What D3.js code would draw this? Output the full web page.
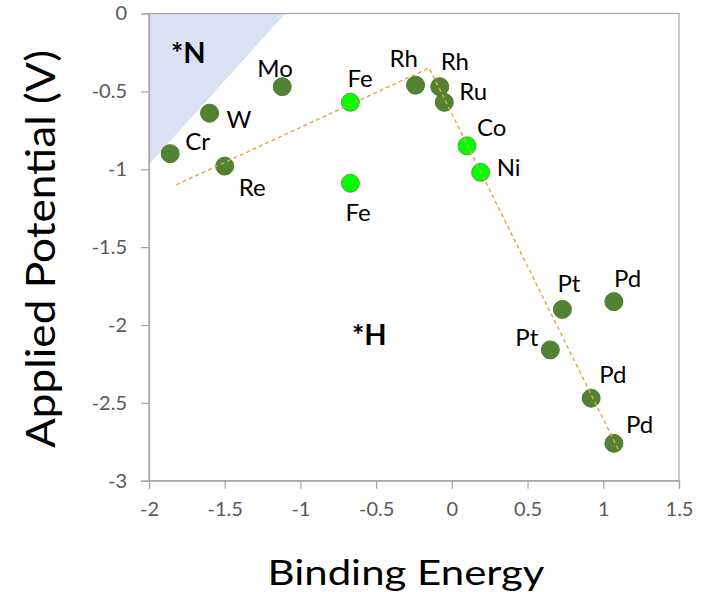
<!DOCTYPE html>
<html>
<head>
<meta charset="utf-8">
<script src="https://cdn.jsdelivr.net/npm/d3@7"></script>
<style>
  html, body { margin: 0; padding: 0; background: #fff; }
  svg { display: block; }
  text { font-family: Lato, "Open Sans", sans-serif; }
</style>
</head>
<body>
<svg id="chart" width="711" height="592"></svg>
<script>
// ---- data ----
const elements  = ["Cr","W","Mo","Re","Fe","Fe","Rh","Rh","Ru","Co","Ni","Pt","Pd","Pt","Pd","Pd"];
const binding   = [-1.86,-1.60,-1.12,-1.50,-0.67,-0.67,-0.24,-0.08,-0.05,0.10,0.19,0.73,1.07,0.65,0.92,1.07];
const potential = [-0.90,-0.64,-0.47,-0.98,-0.57,-1.09,-0.46,-0.47,-0.57,-0.85,-1.02,-1.90,-1.85,-2.16,-2.47,-2.76];
const kind      = ["d","d","d","d","l","l","d","d","d","l","l","d","d","d","d","d"];

const trendX = [-1.82, -0.15, 1.10];
const trendY = [-1.10, -0.35, -2.80];

const regionX = [-2, -1.10, -2];
const regionY = [0, 0, -0.97];

const annoText = ["*N", "*H"];
const annoX = [-1.855, -0.66];
const annoY = [-0.318, -2.13];

const xTicks = [-2, -1.5, -1, -0.5, 0, 0.5, 1, 1.5];
const yTicks = [0, -0.5, -1, -1.5, -2, -2.5, -3];

// ---- layout (label offsets in px, relative to point) ----
const labelDx = [15, 17, -25, 14, -3, -5, -26, 1, 15, 10, 16, -5, 0, -35, 8, 12];
const labelDy = [-4, 15, -10, 30, -15, 38, -18, -17, -2, -10, 4, -17, -15, -4, -15, -10];

const svg = d3.select("#chart");
const L = 149, R = 679, T = 13.5, B = 480.7;

const x = d3.scaleLinear().domain([-2, 1.5]).range([L, R]);
const y = d3.scaleLinear().domain([0, -3]).range([T, B]);

// shaded region
svg.append("path")
  .attr("d", d3.line()(regionX.map((v, i) => [x(v), y(regionY[i])])) + "Z")
  .attr("fill", "#d9e1f2");

// frame
svg.append("rect")
  .attr("x", L).attr("y", T).attr("width", R - L).attr("height", B - T)
  .attr("fill", "none").attr("stroke", "#a6a6a6").attr("stroke-width", 1.2);

// axes
const fmt = d => (d === 0 ? "0" : d3.format("")(d)).replace("−", "-");
const xAxis = svg.append("g").attr("transform", `translate(0,${B})`)
  .call(d3.axisBottom(x).tickValues(xTicks).tickSize(8).tickPadding(13).tickFormat(fmt));
const yAxis = svg.append("g").attr("transform", `translate(${L},0)`)
  .call(d3.axisLeft(y).tickValues(yTicks).tickSize(8).tickPadding(14).tickFormat(fmt));
[xAxis, yAxis].forEach(g => {
  g.select(".domain").attr("stroke", "#a6a6a6").attr("stroke-width", 1.2);
  g.selectAll(".tick line").attr("stroke", "#a6a6a6").attr("stroke-width", 1.2);
  g.selectAll(".tick text").attr("fill", "#595959")
    .style("font-family", "Lato, 'Open Sans', sans-serif").style("font-size", "20px");
});

// points
const pts = elements.map((e, i) => ({ e, bx: binding[i], py: potential[i], k: kind[i], dx: labelDx[i], dy: labelDy[i] }));
svg.append("g").selectAll("circle").data(pts).join("circle")
  .attr("cx", d => x(d.bx)).attr("cy", d => y(d.py)).attr("r", 9)
  .attr("fill", d => d.k === "d" ? "#548235" : "#00ff00")
  .attr("stroke", d => d.k === "d" ? "#4a7a2e" : "#5a9e3c")
  .attr("stroke-width", 1);

// trend line (on top of points)
svg.append("path")
  .attr("d", d3.line()(trendX.map((v, i) => [x(v), y(trendY[i])])))
  .attr("fill", "none").attr("stroke", "#e0a83a").attr("stroke-width", 1.4)
  .attr("stroke-dasharray", "4,3");

// point labels
svg.append("g").selectAll("text").data(pts).join("text")
  .attr("x", d => x(d.bx) + d.dx).attr("y", d => y(d.py) + d.dy)
  .attr("fill", "#000").style("font-size", "24px")
  .text(d => d.e);

// region annotations
svg.append("g").selectAll("text").data(annoText).join("text")
  .attr("x", (d, i) => x(annoX[i])).attr("y", (d, i) => y(annoY[i]))
  .attr("fill", "#000").style("font-size", "29px").style("font-weight", "bold")
  .text(d => d);

// axis titles
svg.append("text")
  .attr("x", (L + R) / 2 - 8).attr("y", 585)
  .attr("text-anchor", "middle").style("font-size", "34px")
  .attr("textLength", 277).attr("lengthAdjust", "spacingAndGlyphs")
  .text("Binding Energy");

svg.append("text")
  .attr("transform", "translate(55,249) rotate(-90)")
  .attr("text-anchor", "middle").style("font-size", "41px")
  .attr("textLength", 398).attr("lengthAdjust", "spacingAndGlyphs")
  .text("Applied Potential (V)");
</script>
</body>
</html>
